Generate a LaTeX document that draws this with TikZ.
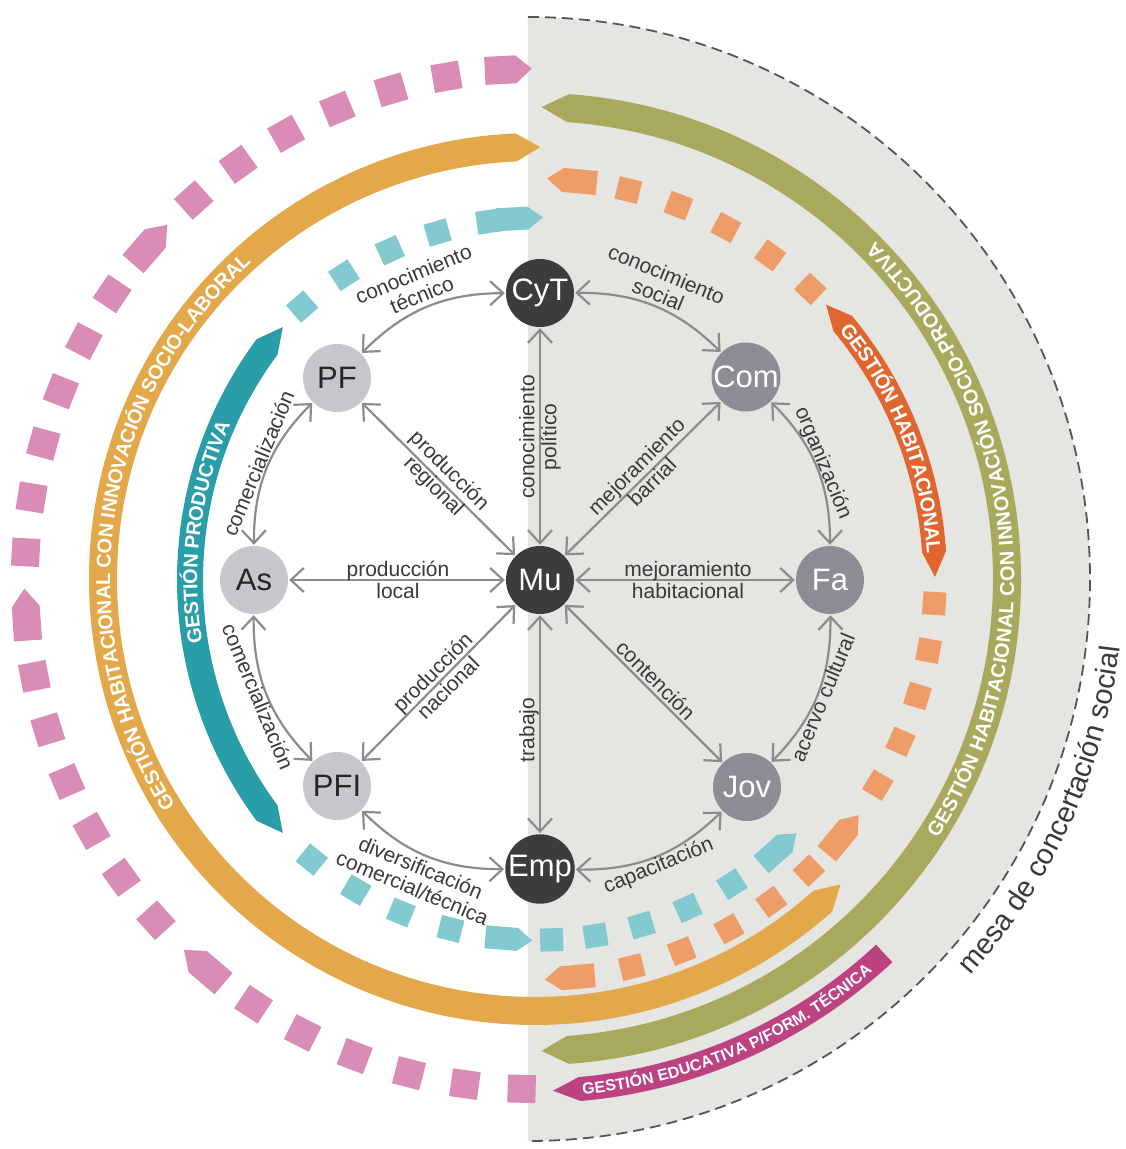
\documentclass[tikz,border=0pt]{standalone}
\usepackage{fontspec}
\setmainfont{Liberation Sans}
\setsansfont{Liberation Sans}
\usetikzlibrary{arrows.meta,decorations.text}

\definecolor{bggray}{HTML}{E5E5E2}
\definecolor{dashgray}{HTML}{555555}
\definecolor{tealband}{HTML}{2A9EA8}
\definecolor{tealsq}{HTML}{82CACF}
\definecolor{orangeband}{HTML}{E0652F}
\definecolor{orangesq}{HTML}{EE9C68}
\definecolor{goldband}{HTML}{E2A84A}
\definecolor{oliveband}{HTML}{A8A95C}
\definecolor{pinksq}{HTML}{D98DB6}
\definecolor{magband}{HTML}{BD4282}
\definecolor{nodedark}{HTML}{3C3C3C}
\definecolor{nodelight}{HTML}{C7C6CB}
\definecolor{nodemid}{HTML}{8E8D95}
\definecolor{edgegray}{HTML}{8C8C8C}
\definecolor{labelgray}{HTML}{3A3A3A}

% band: color, radius, half width, a1, a2 (a1<a2), tip at a1 (deg), tip at a2 (deg)
\newcommand{\band}[7]{%
  \fill[#1] (#4:{#2+#3}) arc[start angle=#4, end angle=#5, radius={#2+#3}]
    -- ({#5+#7}:#2) -- (#5:{#2-#3})
    arc[start angle=#5, end angle=#4, radius={#2-#3}]
    -- ({#4-#6}:#2) -- cycle;}
% square piece: color, radius, angle, size
\newcommand{\sqp}[4]{%
  \fill[#1, shift={(#3:#2)}, rotate=#3] ({-#4/2},{-#4/2}) rectangle ({#4/2},{#4/2});}
% arrow piece: color, radius, angle, dir(+1 ccw / -1 cw), width, length, tip
\newcommand{\arp}[7]{%
  \fill[#1, shift={(#3:#2)}, rotate=#3]
   ({-#5/2},{-(#4)*#6/2}) -- ({#5/2},{-(#4)*#6/2}) -- ({#5/2},{(#4)*(#6/2-#7)})
   -- (0,{(#4)*#6/2}) -- ({-#5/2},{(#4)*(#6/2-#7)}) -- cycle;}
% text along arc: radius, a-start, a-end, raise, font, color, text
\newcommand{\arctext}[7]{%
  \path[decorate, decoration={text along path, text align=center, text color=#6, raise=#4,
     text={|#5|#7}}] (#2:#1) arc[start angle=#2, end angle=#3, radius=#1];}
\newcommand{\bandfont}{\fontsize{20}{20}\selectfont\bfseries}
\newcommand{\smallbandfont}{\fontsize{16}{16}\selectfont\bfseries}
\newcommand{\mesafont}{\fontsize{29}{29}\selectfont}

\tikzset{
  nd/.style={circle, minimum size=68pt, inner sep=0pt, font=\fontsize{31}{31}\selectfont},
  ndark/.style={nd, fill=nodedark, text=white},
  nlight/.style={nd, fill=nodelight, text=black!85},
  nmid/.style={nd, fill=nodemid, text=white},
  link/.style={draw=edgegray, line width=2.2pt,
    {Straight Barb[length=13pt,width=24pt]}-{Straight Barb[length=13pt,width=24pt]},
    shorten <=1pt, shorten >=1pt},
  lbl/.style={font=\fontsize{21}{22}\selectfont, text=labelgray, align=center, inner sep=0pt},
}

\begin{document}
\begin{tikzpicture}[x=1pt,y=1pt]
\useasboundingbox (-540,-569) rectangle (585,580);
\fill[white] (-540,-569) rectangle (585,580);

% gray half disc (mesa de concertacion social)
\fill[bggray] (-12,563) arc[start angle=90, end angle=-90, radius=562] -- cycle;
\draw[dashgray, line width=1.8pt, dash pattern=on 11pt off 6pt] (-12,563) arc[start angle=90, end angle=-90, radius=562];

\begin{scope}[shift={(-5,1)}]
  % pink dashed ring
  \arp{pinksq}{510}{93}{-1}{28}{47}{16}
  \foreach \a in {100,106.4,112.8,119.2,125.6,132,
                  146,152.2,158.4,164.6,170.8,177,
                  191,197.2,203.4,209.6,215.8,222,
                  236.5,242.9,249.3,255.7,262.1,268.5}{\sqp{pinksq}{510}{\a}{28}}
  \arp{pinksq}{510}{139}{-1}{28}{52}{18}
  \arp{pinksq}{510}{184}{-1}{28}{52}{18}
  \arp{pinksq}{510}{229.5}{-1}{28}{52}{18}
  % magenta band
  \band{magband}{512}{12}{-85}{-47}{3}{0}
  \arctext{512}{-86.5}{-47.5}{-5.8pt}{\smallbandfont}{white}{GESTIÓN EDUCATIVA P/FORM. TÉCNICA}
  % olive band
  \band{oliveband}{472}{14}{-86}{86}{3.2}{3.2}
  \arctext{472}{-40}{52}{-7.2pt}{\bandfont}{white}{GESTIÓN HABITACIONAL CON INNOVACIÓN SOCIO-PRODUCTIVA}
  % gold band
  \band{goldband}{432}{14}{92.5}{311.8}{3.2}{3.2}
  \arctext{432}{222}{122}{-7.2pt}{\bandfont}{white}{GESTIÓN HABITACIONAL CON INNOVACIÓN SOCIO-LABORAL}
  % orange band and dashes
  \band{orangeband}{400}{12}{3.9}{39.7}{3.6}{3.6}
  \arctext{400}{41.5}{1.5}{-7.2pt}{\bandfont}{white}{GESTIÓN HABITACIONAL}
  \foreach \a in {46.5,54,61.5,69,76.5,-3.5,-10.3,-17,-24,-31,-46.8,-53.8,-61,-68.5,-76}{\sqp{orangesq}{400}{\a}{23}}
  \arp{orangesq}{400}{84.7}{1}{24}{50}{16}
  \arp{orangesq}{400}{-39.7}{1}{24}{50}{16}
  \arp{orangesq}{400}{-85}{-1}{24}{50}{16}
  % mesa label
  \arctext{589}{-49.5}{0.5}{0pt}{\mesafont}{labelgray}{mesa de concertación social}
\end{scope}

% teal dashes
\begin{scope}[shift={(-1,1)}]
  \foreach \a in {131,122.7,114.4,106.3,98.1,231,239.5,247.5,255.8,272,279,286.5,294.3,302.3}{\sqp{tealsq}{361}{\a}{23}}
  \arp{tealsq}{361}{93.1}{-1}{23}{47}{15}
  \arp{tealsq}{361}{265.2}{1}{23}{47}{15}
  \arp{tealsq}{361}{311.6}{1}{23}{47}{15}
\end{scope}
% teal band
\begin{scope}[shift={(41,0)}]
  \band{tealband}{391}{13}{143.4}{216.6}{3.7}{3.7}
  \arctext{391}{202.7}{142.7}{-7.2pt}{\bandfont}{white}{GESTIÓN PRODUCTIVA}
\end{scope}

% nodes
\node[ndark] (CyT) at (0,287) {CyT};
\node[nlight] (PF) at (-203,202) {PF};
\node[nmid] (Com) at (206,203) {Com};
\node[nlight] (As) at (-286,0) {As};
\node[ndark] (Mu) at (0,0) {Mu};
\node[nmid] (Fa) at (290,0) {Fa};
\node[nlight] (PFI) at (-203,-206) {PFI};
\node[nmid] (Jov) at (207,-207) {Jov};
\node[ndark] (Emp) at (0,-289) {Emp};

% straight links
\draw[link] (Mu) -- (CyT);
\draw[link] (Mu) -- (Emp);
\draw[link] (Mu) -- (As);
\draw[link] (Mu) -- (Fa);
\draw[link] (Mu) -- (PF);
\draw[link] (Mu) -- (PFI);
\draw[link] (Mu) -- (Com);
\draw[link] (Mu) -- (Jov);
% curved links
\draw[link] (Fa) to[bend right=22.5] (Com);
\draw[link] (Com) to[bend right=22.5] (CyT);
\draw[link] (CyT) to[bend right=22.5] (PF);
\draw[link] (PF) to[bend right=22.5] (As);
\draw[link] (As) to[bend right=22.5] (PFI);
\draw[link] (PFI) to[bend right=22.5] (Emp);
\draw[link] (Emp) to[bend right=22.5] (Jov);
\draw[link] (Jov) to[bend right=22.5] (Fa);

% labels
\node[lbl, rotate=90] (lCyT) at (0,143) {conocimiento\\político};
\node[lbl, rotate=90] (lEmp) at (-11,-150) {trabajo};
\node[lbl] (lAs) at (-142,0) {producción\\local};
\node[lbl] (lFa) at (148,0) {mejoramiento\\habitacional};
\node[lbl, rotate=-45] (lPF) at (-99,101) {producción\\regional};
\node[lbl, rotate=45] (lPFI) at (-100,-100) {producción\\nacional};
\node[lbl, rotate=45] (lCom) at (104,106) {mejoramiento\\barrial};
\node[lbl, rotate=-45] (lJov) at (116,-100) {contención};
\node[lbl, rotate=22.5] (aCyTPF) at (112.5:320) {conocimiento\\técnico};
\node[lbl, rotate=-22.5] (aCyTCom) at (67.5:320) {conocimiento\\social};
\node[lbl, rotate=67.5] (aPFAs) at (157.5:305) {comercialización};
\node[lbl, rotate=-67.5] (aAsPFI) at (202.5:305) {comercialización};
\node[lbl, rotate=-22.5] (aPFIEmp) at (247.5:322) {diversificación\\comercial/técnica};
\node[lbl, rotate=22.5] (aEmpJov) at (292.5:310) {capacitación};
\node[lbl, rotate=67.5] (aJovFa) at (337.5:306) {acervo cultural};
\node[lbl, rotate=-67.5] (aComFa) at (22.5:306) {organización};
\end{tikzpicture}
\end{document}
